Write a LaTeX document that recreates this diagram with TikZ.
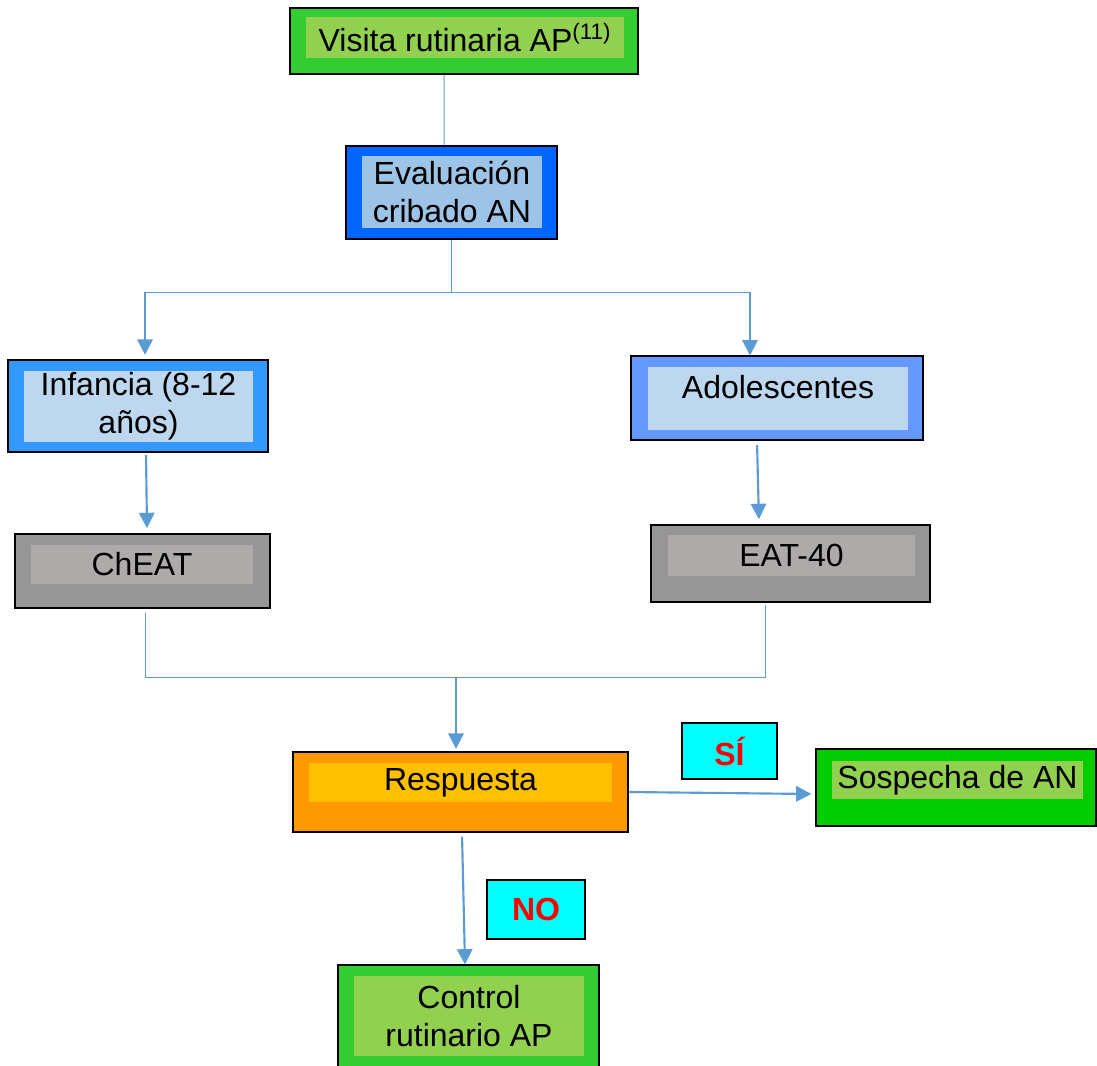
\documentclass[tikz,border=0pt]{standalone}
\usepackage{fontspec}
\setmainfont{Liberation Sans}
\usepackage{xcolor}
\usepackage{tikz}
\usetikzlibrary{arrows.meta, calc}
\definecolor{linkBlue}{HTML}{5B9BD5}
\definecolor{greenOut}{HTML}{33CC33}
\definecolor{greenIn}{HTML}{92D050}
\definecolor{greenDeep}{HTML}{00CC00}
\definecolor{blueDeep}{HTML}{0066FF}
\definecolor{blueSoft}{HTML}{9DC3E6}
\definecolor{blueMid}{HTML}{3399FF}
\definecolor{blueLav}{HTML}{6699FF}
\definecolor{bluePale}{HTML}{BDD7EE}
\definecolor{grayOut}{HTML}{969696}
\definecolor{grayIn}{HTML}{AEAAAA}
\definecolor{orangeOut}{HTML}{FF9900}
\definecolor{orangeIn}{HTML}{FFC000}
\definecolor{tagCyan}{HTML}{00FFFF}
\definecolor{tagRed}{HTML}{FF0000}
\tikzset{
  box/.style={rectangle, draw=black, line width=0.8pt, inner sep=0pt},
  panel/.style={rectangle, inner sep=0pt, align=center,
                font=\fontsize{24}{28.5}\selectfont},
  tag/.style={rectangle, draw=black, line width=0.8pt, fill=tagCyan, text=tagRed,
              inner sep=0pt, font=\fontsize{24}{28}\selectfont\bfseries},
  link/.style={draw=linkBlue, line width=0.75pt},
  flow/.style={draw=linkBlue, line width=1.6pt, -{Triangle[length=11.5pt, width=11.5pt]}}
}

\begin{document}
\begin{tikzpicture}[x=0.75pt, y=-0.75pt]
  \useasboundingbox (0,0) rectangle (1097,1065);

  % boxes
  \node[box, fill=greenOut, minimum width=261pt, minimum height=49.5pt] (visita) at (464,41) {};
  \node[panel, fill=greenIn, minimum width=238.5pt, minimum height=30.75pt] (visita-in) at (465,37.5) {Visita rutinaria AP\textsuperscript{(11)}};
  \node[box, fill=blueDeep, minimum width=158.25pt, minimum height=69.75pt] (evaluacion) at (451.5,192.5) {};
  \node[panel, fill=blueSoft, minimum width=135pt, minimum height=54pt] (evaluacion-in) at (452,192) {Evaluación\\cribado AN};
  \node[box, fill=blueMid, minimum width=195pt, minimum height=69pt] (infancia) at (138,406) {};
  \node[panel, fill=bluePale, minimum width=171.75pt, minimum height=53.25pt] (infancia-in) at (138.5,406.5) {Infancia (8-12\\años)};
  \node[box, fill=blueLav, minimum width=219pt, minimum height=63pt] (adol) at (777,398) {};
  \node[panel, fill=bluePale, minimum width=195pt, minimum height=47.25pt, text depth=18pt] (adol-in) at (778,398.5) {Adolescentes};
  \node[box, fill=grayOut, minimum width=191.25pt, minimum height=55.5pt] (cheat) at (142.5,571) {};
  \node[panel, fill=grayIn, minimum width=166.5pt, minimum height=29.25pt] (cheat-in) at (142,564.5) {ChEAT};
  \node[box, fill=grayOut, minimum width=209.25pt, minimum height=57.75pt] (eat) at (790.5,563.5) {};
  \node[panel, fill=grayIn, minimum width=185.25pt, minimum height=30.75pt] (eat-in) at (791.5,555.5) {EAT-40};
  \node[box, fill=orangeOut, minimum width=251.25pt, minimum height=60pt] (resp) at (460.5,792) {};
  \node[panel, fill=orangeIn, minimum width=227.25pt, minimum height=29.25pt] (resp-in) at (460.5,782.5) {Respuesta};
  \node[box, fill=greenDeep, minimum width=210pt, minimum height=57.75pt] (sosp) at (956,787.5) {};
  \node[panel, fill=greenIn, minimum width=188.25pt, minimum height=28.5pt] (sosp-in) at (957.5,780) {Sospecha de AN};
  \node[box, fill=greenOut, minimum width=195.75pt, minimum height=76.5pt] (ctrl) at (468.5,1016) {};
  \node[panel, fill=greenIn, minimum width=172.5pt, minimum height=60pt] (ctrl-in) at (469,1016) {Control\\rutinario AP};
  \node[tag, minimum width=71.25pt, minimum height=42pt] (si) at (729.5,751) {SÍ};
  \node[tag, minimum width=73.5pt, minimum height=44.25pt] (no) at (536,909.5) {NO};

  % connectors
  \coordinate (split-l) at (145,292);
  \coordinate (split-r) at (750,292);
  \coordinate (join-l) at (145,677);
  \coordinate (join-r) at (765,677);
  \coordinate (join) at (456,677);
  \draw[link] ([xshift=-15pt]visita.south) -- ([xshift=-5.6pt]evaluacion.north);
  \draw[link] (evaluacion.south) -- (evaluacion.south |- split-l);
  \draw[link] (split-l) -- (split-r);
  \draw[flow, shorten >=3.5pt] (split-l) -- (split-l |- infancia.north);
  \draw[flow] (split-r) -- (split-r |- adol.north);
  \draw[flow, shorten <=2pt, shorten >=4pt] ([xshift=6pt]infancia.south) -- ([xshift=3.4pt]cheat.north);
  \draw[flow, shorten <=3.5pt, shorten >=4pt] ([xshift=-15pt]adol.south) -- ([xshift=-23.6pt]eat.north);
  \draw[link] ([yshift=-3pt]cheat.south -| join-l) -- (join-l) -- (join-r) -- ([yshift=-1.5pt]eat.south -| join-r);
  \draw[flow, shorten >=2pt] (join) -- (join |- resp.north);
  \draw[flow, shorten >=3pt] (resp.east) -- ([yshift=-4.9pt]sosp.west);
  \draw[flow, shorten <=3pt] ([xshift=1.1pt]resp.south) -- ([xshift=-2.6pt]ctrl.north);
\end{tikzpicture}
\end{document}
